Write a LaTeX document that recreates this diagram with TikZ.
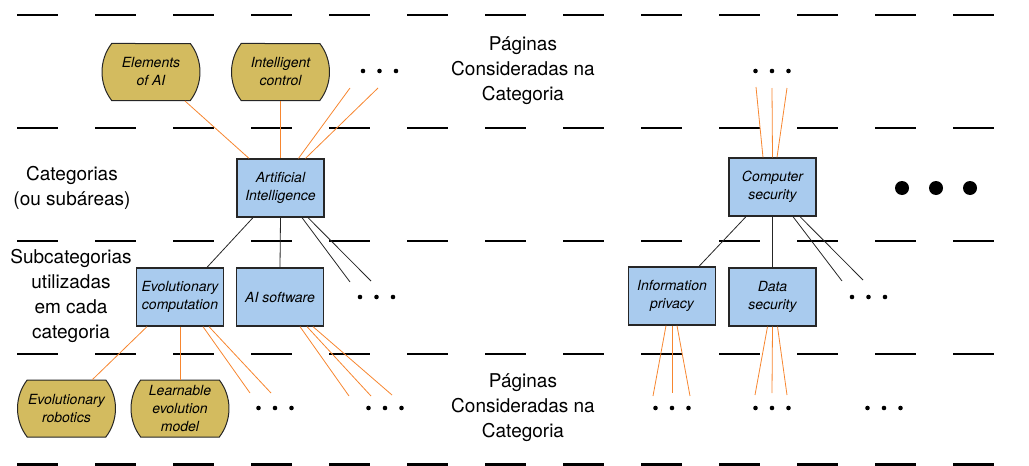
\documentclass[tikz,border=0pt]{standalone}
\usepackage{fontspec}
\setmainfont{TeX Gyre Heros}
\usetikzlibrary{shapes.misc}
\definecolor{catblue}{HTML}{A9CBEE}
\definecolor{pagegold}{HTML}{D3BB5F}
\definecolor{linkorange}{HTML}{F7862F}
\tikzset{
  catbox/.style={draw=black!85, line width=1.3pt, fill=catblue, minimum width=87,
    minimum height=58, align=center, inner sep=0pt,
    font=\itshape\fontsize{14}{18}\selectfont},
  pagebox/.style={rounded rectangle, rounded rectangle arc length=75, draw=black!85,
    line width=1pt, fill=pagegold, minimum width=98, minimum height=57,
    align=center, inner sep=0pt, font=\itshape\fontsize{14}{18}\selectfont},
  sidetext/.style={align=center, inner sep=0pt, font=\fontsize{19}{25}\selectfont},
  rowline/.style={line width=2.3pt, dash pattern=on 41pt off 37pt},
  catlink/.style={line width=0.8pt, black!85},
  pagelink/.style={line width=0.8pt, linkorange},
}
\begin{document}
\begin{tikzpicture}[x=1pt, y=-1pt]
      \useasboundingbox (0,0) rectangle (1029,466);
      % level lines
      \foreach \y in {15,128,241,354,464.5}
        \draw[rowline] (17,\y) -- (994,\y);
      % labels
      \node[sidetext] (pagtop) at (523,71) {Páginas\\Consideradas na\\Categoria};
      \node[sidetext] (pagbot) at (523,408) {Páginas\\Consideradas na\\Categoria};
      \node[sidetext] (catlbl) at (72,187.5) {Categorias\\(ou subáreas)};
      \node[sidetext] (sublbl) at (71,295.5) {Subcategorias\\utilizadas\\em cada\\categoria};
      % categories
      \node[catbox] (ai) at (280.5,188) {Artificial\\Intelligence};
      \node[catbox] (evo) at (180,297) {Evolutionary\\computation};
      \node[catbox] (aisw) at (280,297) {AI software};
      \node[catbox] (cs) at (772.5,187) {Computer\\security};
      \node[catbox] (ip) at (672,296) {Information\\privacy};
      \node[catbox] (ds) at (772.5,297) {Data\\security};
      % pages
      \node[pagebox] (elem) at (151,72) {Elements\\of AI};
      \node[pagebox] (ictrl) at (280.5,72) {Intelligent\\control};
      \node[pagebox] (evrob) at (66.5,408.5) {Evolutionary\\robotics};
      \node[pagebox] (lem) at (180,408.5) {Learnable\\evolution\\model};
      % loose ends
      \coordinate (aiup1) at (350,88);
      \coordinate (aiup2) at (378,88);
      \coordinate (aidn1) at (350,282);
      \coordinate (aidn2) at (371,281);
      \coordinate (evodn1) at (250,393);
      \coordinate (evodn2) at (271,393);
      \coordinate (swdn1) at (349,396);
      \coordinate (swdn2) at (371,396);
      \coordinate (swdn3) at (392,395);
      \coordinate (csup1) at (756,87);
      \coordinate (csup2) at (772,88);
      \coordinate (csup3) at (787,88);
      \coordinate (csdn1) at (842,281);
      \coordinate (csdn2) at (863,280);
      \coordinate (ipdn1) at (653,396);
      \coordinate (ipdn2) at (672,393);
      \coordinate (ipdn3) at (690,396);
      \coordinate (dsdn1) at (755,395);
      \coordinate (dsdn2) at (772,393);
      \coordinate (dsdn3) at (787,395);
      % dots
      \foreach \x/\y in {379.5/71, 772/71, 376.5/297, 868.5/297, 275/408, 385/408,
                         672/408, 772/408, 884/408}
        \foreach \dx in {-16.5,0,16.5}
          \fill (\x+\dx,\y) circle (2.3);
      \foreach \x in {902,936,970}
        \fill (\x,188) circle (7);
      \begin{scope}[catlink]
        \draw ([xshift=-27.5]ai.south) to ([xshift=27]evo.north);
        \draw (ai.south) to (aisw.north);
        \draw ([xshift=21.5]ai.south) to (aidn1);
        \draw ([xshift=27.5]ai.south) to (aidn2);
        \draw ([xshift=-26.5]cs.south) to ([xshift=27]ip.north);
        \draw (cs.south) to (ds.north);
        \draw ([xshift=20.5]cs.south) to (csdn1);
        \draw ([xshift=27.5]cs.south) to (csdn2);
      \end{scope}
      \begin{scope}[pagelink]
        \draw ([xshift=34]elem.south) to ([xshift=-31.5]ai.north);
        \draw (ictrl.south) to (ai.north);
        \draw (aiup1) to ([xshift=18]ai.north);
        \draw (aiup2) to ([xshift=25]ai.north);
        \draw ([xshift=-33]evo.south) to ([xshift=26]evrob.north);
        \draw (evo.south) to (lem.north);
        \draw ([xshift=23]evo.south) to (evodn1);
        \draw ([xshift=29]evo.south) to (evodn2);
        \draw ([xshift=20]aisw.south) to (swdn1);
        \draw ([xshift=27]aisw.south) to (swdn2);
        \draw ([xshift=33]aisw.south) to (swdn3);
        \draw (csup1) to ([xshift=-9.5]cs.north);
        \draw (csup2) to (cs.north);
        \draw (csup3) to ([xshift=4.5]cs.north);
        \draw ([xshift=-6]ip.south) to (ipdn1);
        \draw (ip.south) to (ipdn2);
        \draw ([xshift=5]ip.south) to (ipdn3);
        \draw ([xshift=-5]ds.south) to (dsdn1);
        \draw (ds.south) to (dsdn2);
        \draw ([xshift=5]ds.south) to (dsdn3);
      \end{scope}
    \end{tikzpicture}
\end{document}
